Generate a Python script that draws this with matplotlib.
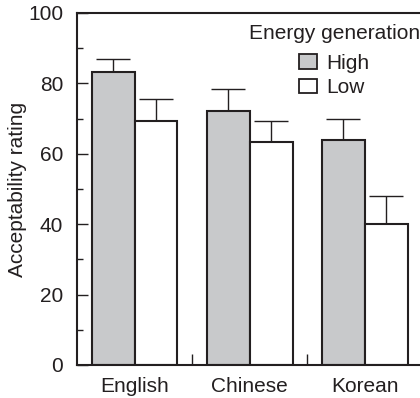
import numpy as np
import matplotlib.pyplot as plt
from matplotlib.ticker import MultipleLocator

plt.rcParams['font.family'] = ['Liberation Sans', 'DejaVu Sans']

languages = ['English', 'Chinese', 'Korean']
high = [83.2, 72.2, 63.9]
high_err = [3.7, 6.1, 6.1]
low = [69.3, 63.4, 40.0]
low_err = [6.2, 6.0, 8.1]

ink = '#231f20'
grey = '#c8c9cb'
fs = 15

fig = plt.figure(figsize=(4.2, 3.98), dpi=100)
ax = fig.add_axes([77 / 420, 33 / 398, 345.5 / 420, 352 / 398])

x = np.arange(len(languages))
w = 0.372
ax.bar(x - w / 2, high, w, color=grey, edgecolor=ink, linewidth=1.5, label='High', zorder=2)
ax.bar(x + w / 2, low, w, color='white', edgecolor=ink, linewidth=1.5, label='Low', zorder=2)
ax.errorbar(x - w / 2, high, yerr=[np.zeros(3), high_err], fmt='none', ecolor=ink,
            elinewidth=1.0, capsize=12, capthick=1.0, zorder=1)
ax.errorbar(x + w / 2, low, yerr=[np.zeros(3), low_err], fmt='none', ecolor=ink,
            elinewidth=1.0, capsize=12, capthick=1.0, zorder=1)

ax.set_xlim(-0.5, 2.5)
ax.set_ylim(0, 100)
ax.set_xticks(x)
ax.set_xticklabels(languages, fontsize=fs, color=ink)
ax.set_xticks([0.5, 1.5], minor=True)
ax.tick_params(axis='x', which='major', length=0, pad=9)
ax.tick_params(axis='x', which='minor', direction='in', length=8, width=1.0, color=ink)

ax.yaxis.set_major_locator(MultipleLocator(20))
ax.yaxis.set_minor_locator(MultipleLocator(10))
ax.tick_params(axis='y', which='major', direction='in', length=8, width=1.0, color=ink,
               labelsize=fs, labelcolor=ink, pad=10)
ax.tick_params(axis='y', which='minor', direction='in', length=4, width=1.0, color=ink)
ax.set_ylabel('Acceptability rating', fontsize=fs, color=ink, labelpad=1)

for s in ['left', 'top', 'bottom']:
    ax.spines[s].set_linewidth(1.5)
    ax.spines[s].set_color(ink)
ax.spines['right'].set_visible(False)

leg = ax.legend(title='Energy generation', loc='upper right', bbox_to_anchor=(1.0, 0.94),
                bbox_transform=fig.transFigure, frameon=False, fontsize=fs, title_fontsize=fs,
                handlelength=0.85, handleheight=0.7, handletextpad=0.45, labelspacing=0.25,
                borderpad=0, borderaxespad=0)
leg._legend_box.sep = 8
plt.setp(leg.get_texts(), color=ink)
leg.get_title().set_color(ink)
for p in leg.get_patches():
    p.set_linewidth(1.3)

fig.savefig('out.png', dpi=100)
